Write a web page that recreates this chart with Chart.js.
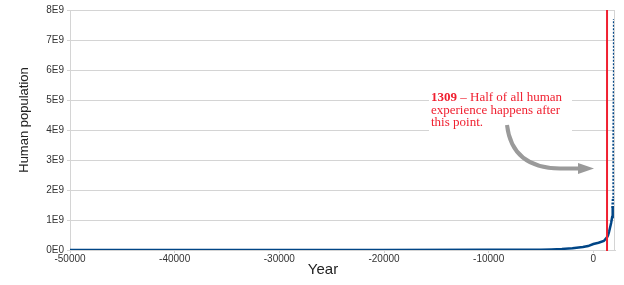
<!DOCTYPE html>
<html>
<head>
<meta charset="utf-8">
<script src="https://cdn.jsdelivr.net/npm/chart.js@4"></script>
<style>
  html, body { margin: 0; padding: 0; background: #fff; }
  canvas { display: block; }
</style>
</head>
<body>
<canvas id="popChart" width="624" height="285"></canvas>
<script>
// Data (year, human population)
const years = [-50000, -40000, -30000, -20000, -10000, -8000, -6000, -5000, -4000, -3000,
  -2000, -1000, -500, 0, 500, 1000, 1200, 1300, 1400, 1500, 1600, 1700, 1800, 1850,
  1900, 1950, 1970, 1990, 2000, 2010, 2020];
const population = [2e6, 2e6, 3e6, 4e6, 5e6, 7e6, 9e6, 12e6, 20e6, 35e6,
  60e6, 100e6, 130e6, 200e6, 240e6, 300e6, 380e6, 420e6, 480e6, 600e6, 750e6, 900e6, 1.1e9, 1.4e9,
  1.7e9, 2.5e9, 3.7e9, 5.3e9, 6.1e9, 6.9e9, 7.7e9];

const xTicks = [-50000, -40000, -30000, -20000, -10000, 0];
const yTickLabels = ['0E0', '1E9', '2E9', '3E9', '4E9', '5E9', '6E9', '7E9', '8E9'];

const xMax = 2070;
const halfYear = 1309;
const dottedFrom = 1850;

const gridColor = '#d4d4d4';
const lineColor = '#004586';
const redColor = '#f02030';

// Red marker line, annotation and axis titles
const overlay = {
    id: 'overlay',
    afterDraw(chart) {
        const ctx = chart.ctx;
        const area = chart.chartArea;
        const x = chart.scales.x;

        ctx.save();
        // right border of plot
        ctx.strokeStyle = gridColor;
        ctx.lineWidth = 1;
        ctx.beginPath();
        ctx.moveTo(Math.round(area.right) - 0.5, area.top);
        ctx.lineTo(Math.round(area.right) - 0.5, area.bottom);
        ctx.stroke();

        // white box behind the note
        ctx.fillStyle = '#fff';
        ctx.fillRect(429, 88, 143, 45);

        // note text
        ctx.fillStyle = redColor;
        ctx.textBaseline = 'middle';
        ctx.font = 'bold 13px "Liberation Serif"';
        ctx.fillText('1309', 431, 98);
        const w = ctx.measureText('1309').width;
        ctx.font = '13px "Liberation Serif"';
        ctx.fillText(' – Half of all human', 431 + w, 98);
        ctx.fillText('experience happens after', 431, 110.5);
        ctx.fillText('this point.', 431, 123);

        // curved gray arrow
        ctx.strokeStyle = '#9a9a9a';
        ctx.fillStyle = '#9a9a9a';
        ctx.lineWidth = 4;
        ctx.beginPath();
        ctx.moveTo(507, 125);
        ctx.quadraticCurveTo(512, 168, 560, 168.5);
        ctx.lineTo(580, 168.5);
        ctx.stroke();
        ctx.beginPath();
        ctx.moveTo(578, 163);
        ctx.lineTo(594, 168.5);
        ctx.lineTo(578, 174);
        ctx.closePath();
        ctx.fill();

        // vertical red line at 1309
        const rx = x.getPixelForValue(halfYear);
        ctx.strokeStyle = redColor;
        ctx.lineWidth = 2;
        ctx.beginPath();
        ctx.moveTo(rx, area.top);
        ctx.lineTo(rx, area.bottom + 1);
        ctx.stroke();

        // axis titles
        ctx.fillStyle = '#222';
        ctx.textAlign = 'center';
        ctx.font = '13px "Liberation Sans"';
        ctx.save();
        ctx.translate(24, 120);
        ctx.rotate(-Math.PI / 2);
        ctx.fillText('Human population', 0, 0);
        ctx.restore();
        ctx.font = '15px "Liberation Sans"';
        ctx.fillText('Year', 323, 270);
        ctx.restore();
    }
};

new Chart(document.getElementById('popChart'), {
    type: 'line',
    data: {
        datasets: [{
            label: 'Human population',
            data: years.map((yr, i) => ({ x: yr, y: population[i] })),
            borderColor: lineColor,
            borderWidth: 2.5,
            pointRadius: 0,
            tension: 0,
            fill: false,
            segment: {
                borderDash: c => c.p0.parsed.x >= dottedFrom ? [2, 1.5] : undefined,
                borderWidth: c => c.p0.parsed.x >= dottedFrom ? 3 : undefined
            }
        }]
    },
    plugins: [overlay],
    options: {
        responsive: false,
        animation: false,
        layout: { padding: { top: 10, right: 9, left: 0, bottom: 0 } },
        plugins: {
            legend: { display: false },
            tooltip: { enabled: false }
        },
        scales: {
            x: {
                type: 'linear',
                min: years[0],
                max: xMax,
                afterBuildTicks: scale => {
                    scale.ticks = xTicks.map(v => ({ value: v }));
                },
                afterFit: scale => { scale.height = 35; },
                grid: { drawOnChartArea: false, drawTicks: true, tickLength: 3, color: gridColor },
                border: { color: gridColor },
                ticks: {
                    padding: 0,
                    maxRotation: 0,
                    color: '#333',
                    font: { family: 'Liberation Sans', size: 10 },
                    callback: v => String(v)
                }
            },
            y: {
                min: 0,
                max: 8e9,
                afterFit: scale => { scale.width = 70; },
                grid: { color: gridColor, tickLength: 3 },
                border: { color: gridColor },
                ticks: {
                    stepSize: 1e9,
                    padding: 3,
                    color: '#333',
                    font: { family: 'Liberation Sans', size: 10 },
                    callback: (v, i) => yTickLabels[i]
                }
            }
        }
    }
});
</script>
</body>
</html>
